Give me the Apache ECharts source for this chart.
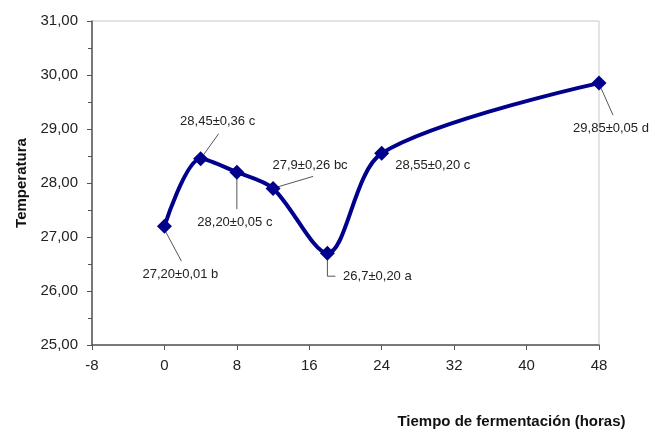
<!DOCTYPE html>
<html>
<head>
<meta charset="utf-8">
<script src="https://cdn.jsdelivr.net/npm/echarts@6/dist/echarts.min.js"></script>
<style>
html,body{margin:0;padding:0;background:#fff;}
#main{width:652px;height:434px;}
</style>
</head>
<body>
<div id="main"></div>
<script>
// Data
var hours = [0, 4, 8, 12, 18, 24, 48];
var temperature = [27.20, 28.45, 28.20, 27.9, 26.7, 28.55, 29.85];
var pointLabels = ['27,20±0,01 b', '28,45±0,36 c', '28,20±0,05 c', '27,9±0,26 bc', '26,7±0,20 a', '28,55±0,20 c', '29,85±0,05 d'];
var xTicks = [-8, 0, 8, 16, 24, 32, 40, 48];
var yTicks = ['25,00', '26,00', '27,00', '28,00', '29,00', '30,00', '31,00'];

// styling only: label centre offsets from the marker, and leader-line offsets from the marker (pixels)
var labelOffsets = [[16, 48], [17, -37], [-2, 50], [37, -23], [50, 23], [51, 12], [12, 45]];
var leaderOffsets = [
  [[1, 5], [17, 35]],
  [[3, -4], [18, -25]],
  [[0, 5], [0, 37]],
  [[3, -1], [40, -12]],
  [[0, 6], [0, 23], [8, 23]],
  null,
  [[2, 5], [14, 32]]
];

var FONT = '"Liberation Sans", Arial, sans-serif';
var navy = '#00008c';

var seriesData = hours.map(function (h, i) {
  return { value: [h, temperature[i]], label: { formatter: pointLabels[i] } };
});

var chart = echarts.init(document.getElementById('main'), null, { renderer: 'canvas' });
chart.setOption({
  animation: false,
  backgroundColor: '#fff',
  grid: {
    left: 92, right: 53, top: 21, bottom: 87,
    show: true, borderColor: '#c8c8c8', borderWidth: 1, backgroundColor: 'transparent'
  },
  xAxis: {
    type: 'value',
    min: -8, max: 48, interval: 8,
    name: 'Tiempo de fermentación (horas)',
    nameLocation: 'middle',
    nameGap: 69,
    nameTextStyle: { fontFamily: FONT, fontWeight: 'bold', fontSize: 15, color: '#111', padding: [0, 0, 0, 332] },
    axisLine: { show: true, onZero: false, lineStyle: { color: '#555', width: 1.5 } },
    axisTick: { show: true, inside: false, length: 5, lineStyle: { color: '#555' } },
    axisLabel: {
      fontFamily: FONT, fontSize: 15, color: '#222', margin: 13,
      formatter: function (v) { return xTicks.indexOf(v) >= 0 ? String(v) : ''; }
    },
    splitLine: { show: false }
  },
  yAxis: {
    type: 'value',
    min: 25, max: 31, interval: 1,
    name: 'Temperatura',
    nameLocation: 'middle',
    nameRotate: 90,
    nameGap: 59,
    nameTextStyle: { fontFamily: FONT, fontWeight: 'bold', fontSize: 15, color: '#111' },
    axisLine: { show: true, onZero: false, lineStyle: { color: '#555', width: 1.5 } },
    axisTick: { show: true, inside: false, length: 5, lineStyle: { color: '#555' } },
    minorTick: { show: true, splitNumber: 2, length: 4, lineStyle: { color: '#555' } },
    axisLabel: {
      fontFamily: FONT, fontSize: 15, color: '#222', margin: 14,
      formatter: function (v) { return yTicks[Math.round(v - 25)]; }
    },
    splitLine: { show: false }
  },
  series: [{
    type: 'line',
    data: seriesData,
    smooth: 0.3,
    symbol: 'diamond',
    symbolSize: 15,
    z: 3,
    lineStyle: { color: navy, width: 4 },
    itemStyle: { color: navy },
    label: {
      show: true,
      position: 'inside',
      fontFamily: FONT,
      fontSize: 13,
      color: '#222'
    },
    labelLayout: function (params) {
      var o = labelOffsets[params.dataIndex];
      return { dx: o[0], dy: o[1] };
    }
  }]
});

// leader lines, positioned from the library's own scales
var graphics = [];
hours.forEach(function (h, i) {
  var lo = leaderOffsets[i];
  if (!lo) return;
  var p = chart.convertToPixel({ gridIndex: 0 }, [h, temperature[i]]);
  graphics.push({
    type: 'polyline',
    z: 2,
    shape: { points: lo.map(function (d) { return [p[0] + d[0], p[1] + d[1]]; }) },
    style: { stroke: '#555', lineWidth: 1, fill: null }
  });
});
chart.setOption({ graphic: graphics });
</script>
</body>
</html>
